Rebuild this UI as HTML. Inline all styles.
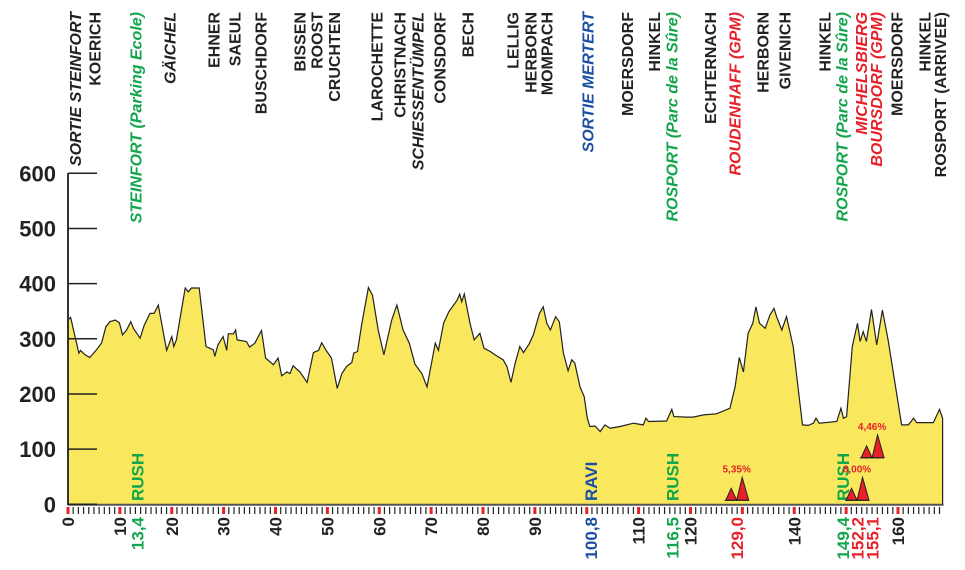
<!DOCTYPE html>
<html><head><meta charset="utf-8"><style>
html,body{margin:0;padding:0;background:#fff;}
svg{display:block;font-family:"Liberation Sans",Arial,sans-serif;}
</style></head><body>
<svg id="chart" width="965" height="570" viewBox="0 0 965 570" xmlns="http://www.w3.org/2000/svg">
<g id="plot"></g>
<g id="yaxis"></g>
<g id="xaxis"></g>
<g id="toplabels"></g>
<g id="annot"></g>
</svg>
<script>
const kms = [0,0.5,1.5,2.1,2.4,3.3,4.2,5.5,6.5,7.3,8.1,9.1,9.9,10.5,11.3,12.1,12.6,13.9,14.7,15.8,16.6,17.4,19,20,20.4,20.9,22.6,23.2,23.8,25.3,26.6,28,28.3,28.9,29.9,30.6,30.9,31.9,32.3,32.6,34.4,35,36,37.3,38.1,39.6,40.5,41.2,42.2,42.8,43.4,44.7,46.1,47.3,48.3,48.9,49.7,50.8,51.9,52.8,53.7,54.7,55.1,55.8,56.6,57.9,58.7,59.8,60.9,62.4,63.4,64.6,65.8,66.9,68.2,69.2,70.8,71.4,72.4,73.4,75,75.5,75.9,76.4,77.5,78.3,79.4,80.2,81.4,82.3,83.9,84.6,85.4,86.2,87.1,87.8,88.9,89.7,90.9,91.6,92.3,93,94,94.7,95.5,96.4,97.1,97.7,98.7,99.5,100.1,100.6,101.6,102.6,103.5,104.5,106.4,109,110.9,111.4,111.9,115.4,116.4,116.8,119.3,120.5,122.5,125,127.6,128.6,129.4,130.2,131.1,132,132.6,133.3,134.4,135.3,136.1,136.6,137.6,138.5,139.8,141.6,142.7,143.7,144.2,144.8,148.2,149,149.5,150.1,151.2,152.2,152.7,153.3,153.9,154.9,155.9,157,158.1,160.7,162,163,163.6,166.8,168,168.6];
const elevations = [334,339,298,274,279,271,266,280,293,322,331,334,329,307,316,331,319,301,325,346,346,361,279,304,286,298,392,385,392,392,286,280,268,289,304,279,309,309,316,298,295,285,292,315,265,253,265,233,240,237,251,240,221,275,279,293,280,265,210,237,250,257,274,277,325,393,379,316,271,334,361,316,292,254,237,213,292,279,328,349,370,381,367,381,328,298,310,283,277,271,262,250,221,256,286,275,291,307,346,358,328,316,340,331,274,242,262,256,213,195,156,141,142,132,144,138,141,147,144,156,150,151,172,159,158,158,162,164,174,213,266,240,310,328,358,328,319,343,355,340,316,340,286,144,143,147,156,147,150,174,156,159,286,328,295,313,295,353,289,352,298,144,144,156,148,148,172,156];
const yTicks = [0,100,200,300,400,500,600];
const xTicks = [0,10,20,30,40,50,60,70,80,90,110,120,140,160];
const specialKm = [13.4,100.8,116.5,129.0,149.4,152.2,155.1];
const specialText = ["13,4","100,8","116,5","129,0","149,4","152,2","155,1"];
const specialColor = ["#12a54c","#1b4fa3","#12a54c","#e8202a","#12a54c","#e8202a","#e8202a"];
const sprintKm = [13.4,100.8,116.5,149.4];
const sprintText = ["RUSH","RAVI","RUSH","RUSH"];
const sprintColor = ["#12a54c","#1b4fa3","#12a54c","#12a54c"];
const climbKm = [129.0,152.2,155.1];
const climbBase = [0,0,85];
const climbText = ["5,35%","8,00%","4,46%"];
const placeNames = ["SORTIE STEINFORT","KOERICH","STEINFORT (Parking Ecole)","GÄICHEL","EHNER","SAEUL","BUSCHDORF","BISSEN","ROOST","CRUCHTEN","LAROCHETTE","CHRISTNACH","SCHIESSENTÜMPEL","CONSDORF","BECH","LELLIG","HERBORN","MOMPACH","SORTIE MERTERT","MOERSDORF","HINKEL","ROSPORT (Parc de la Sûre)","ECHTERNACH","ROUDENHAFF (GPM)","HERBORN","GIVENICH","HINKEL","ROSPORT (Parc de la Sûre)","MICHELSBIERG","BOURSDORF (GPM)","MOERSDORF","HINKEL","ROSPORT (ARRIVEE)"];
const placeKm = [1.4,5.2,13.1,19.7,28.1,32.2,37.2,44.7,48,51.4,59.6,64,67.5,71.7,77.1,85.8,89.3,92.3,100.2,107.9,113.1,116.4,123.9,128.6,134,138.2,145.9,149.2,153,155.9,159.8,165.2,168.2];
const placeColor = ["#222","#222","#12a54c","#222","#222","#222","#222","#222","#222","#222","#222","#222","#222","#222","#222","#222","#222","#222","#1b4fa3","#222","#222","#12a54c","#222","#e8202a","#222","#222","#222","#12a54c","#e8202a","#e8202a","#222","#222","#222"];
const placeItalic = [1,0,1,1,0,0,0,0,0,0,0,0,1,0,0,0,0,0,1,0,0,1,0,1,0,0,0,1,1,1,0,0,0];

const NS="http://www.w3.org/2000/svg";
const X0=68, KPX=5.1875, Y0=504.3, EPX=55.17/100;
const xs=k=>X0+k*KPX, ys=e=>Y0-e*EPX;
function mk(tag,parent,attrs){const el=document.createElementNS(NS,tag);for(const k in attrs)el.setAttribute(k,attrs[k]);parent.appendChild(el);return el;}
const plotG=document.getElementById('plot'),yaxG=document.getElementById('yaxis'),xaxG=document.getElementById('xaxis'),topG=document.getElementById('toplabels'),annG=document.getElementById('annot');

let d=`M${xs(kms[0])},${Y0} `;
kms.forEach((k,i)=>{d+=`L${xs(k).toFixed(1)},${ys(elevations[i]).toFixed(1)} `;});
const xEnd=xs(kms[kms.length-1]);
d+=`L${xEnd},${Y0} Z`;
const area=mk('path',plotG,{d:d,fill:'#f9e85d',stroke:'none'});


let ld='';kms.forEach((k,i)=>{ld+=(i?'L':'M')+xs(k).toFixed(1)+','+ys(elevations[i]).toFixed(1)+' ';});
ld+=`L${xEnd},${Y0}`;
const line=mk('path',plotG,{d:ld,fill:'none',stroke:'#222',"stroke-width":1.2});


const base=mk('line',plotG,{x1:X0,y1:Y0+0.5,x2:xEnd+1,y2:Y0+0.5,stroke:'#555',"stroke-width":2});



const ya=mk('line',yaxG,{x1:X0,y1:ys(600),x2:X0,y2:Y0+1,stroke:'#333',"stroke-width":2});


yTicks.forEach(v=>{
  const t=mk('line',yaxG,{x1:X0,y1:ys(v),x2:97,y2:ys(v),stroke:'#222',"stroke-width":1.5});
  
  
  const l=mk('text',yaxG,{x:56,y:ys(v)+8,"text-anchor":"end","font-size":22,"font-weight":"bold",fill:'#222'});
  l.textContent=v;
  
  
});

const maxK=Math.floor(kms[kms.length-1]);
for(let k=0;k<=maxK;k++){
  const red=k%10===0;
  const t=mk('rect',xaxG,{x:xs(k)-(red?1.5:0.6),y:507,width:red?3:1.2,height:7,fill:red?'#e8202a':'#222'});
  
  
}
xTicks.forEach(v=>{
  const x=xs(v)+6;
  const l=mk('text',xaxG,{x:0,y:0,transform:`translate(${x},517) rotate(-90)`,"text-anchor":"end","font-size":17,"font-weight":"bold",fill:'#222'});
  l.textContent=v;
  
  
});
specialKm.forEach((k,i)=>{
  const x=xs(k)+6;
  const l=mk('text',xaxG,{x:0,y:0,transform:`translate(${x},517) rotate(-90)`,"text-anchor":"end","font-size":17,"font-weight":"bold",fill:specialColor[i]});
  l.textContent=specialText[i];
  
  
});

sprintKm.forEach((k,i)=>{
  const x=xs(k)+6;
  const l=mk('text',annG,{x:0,y:0,transform:`translate(${x},501) rotate(-90)`,"text-anchor":"start","font-size":17,"font-weight":"bold",fill:sprintColor[i]});
  l.textContent=sprintText[i];
  
  
});

climbKm.forEach((k,i)=>{
  const cx=xs(k)-0.5, by=Y0-4-climbBase[i]*0.5;
  const g=mk('g',annG,{});
  
  
  mk('polygon',g,{points:`${cx-11},${by} ${cx-5.5},${by-12} ${cx},${by}`,fill:'#e8202a',stroke:'#222',"stroke-width":1});
  mk('polygon',g,{points:`${cx},${by} ${cx+5.5},${by-23} ${cx+12},${by}`,fill:'#e8202a',stroke:'#222',"stroke-width":1});
  mk('line',g,{x1:cx-12,y1:by,x2:cx+12,y2:by,stroke:'#222',"stroke-width":1.2});
  const l=mk('text',annG,{x:cx,y:by-28,"text-anchor":"middle","font-size":10,"font-weight":"bold",fill:'#e8202a'});
  l.textContent=climbText[i];
  
  
});

placeNames.forEach((n,i)=>{
  const x=xs(placeKm[i])+5.5;
  const l=mk('text',topG,{x:0,y:0,transform:`translate(${x.toFixed(1)},12) rotate(-90)`,"text-anchor":"end","font-size":16,"font-weight":"bold",fill:placeColor[i]});
  if(placeItalic[i])l.setAttribute('font-style','italic');
  l.textContent=n;
  
  
});
</script>
</body></html>
